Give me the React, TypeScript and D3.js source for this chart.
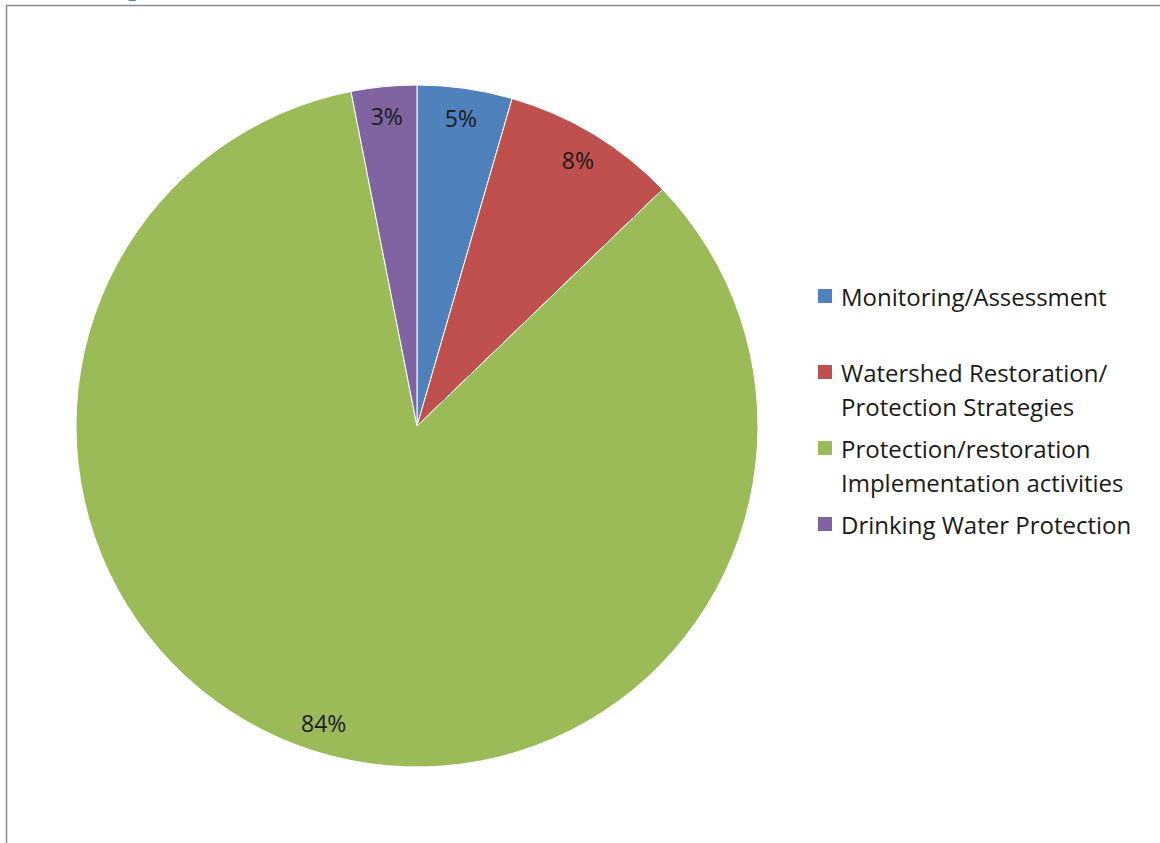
import React from "react";
import * as d3 from "d3";

const categories = [
  "Monitoring/Assessment",
  "Watershed Restoration/ Protection Strategies",
  "Protection/restoration Implementation activities",
  "Drinking Water Protection",
];
const legendLines = [
  ["Monitoring/Assessment"],
  ["Watershed Restoration/", "Protection Strategies"],
  ["Protection/restoration", "Implementation activities"],
  ["Drinking Water Protection"],
];
const values = [4.5, 8.3, 84.1, 3.1];
const colors = ["#4F81BD", "#C0504D", "#9BBB59", "#8064A2"];
const legendY = [296, 372, 448, 524];

const W = 1160;
const H = 843;
const cx = 417;
const cy = 426;
const R = 341;
const labelR = 311;
const FONT = "'Open Sans', Lato, 'DejaVu Sans', sans-serif";

export default function App() {
  const total = d3.sum(values);
  const pie = d3.pie<number>().sort(null).value((d) => d)(values);
  const arc = d3.arc<d3.PieArcDatum<number>>().innerRadius(0).outerRadius(R);
  const labelArc = d3
    .arc<d3.PieArcDatum<number>>()
    .innerRadius(labelR)
    .outerRadius(labelR);

  return (
    <svg
      width={W}
      height={H}
      style={{ position: "absolute", left: 0, top: 0, background: "#fff" }}
    >
      <text
        x={128}
        y={-4}
        fontFamily="'DejaVu Serif', serif"
        fontWeight="bold"
        fontSize={22}
        fill="#4F81BD"
      >
        p
      </text>
      <path d={`M6.5,${H} V5.5 H${W}`} fill="none" stroke="#8c8c8c" strokeWidth={1.5} />
      <g transform={`translate(${cx},${cy})`}>
        {pie.map((p, i) => (
          <path key={i} d={arc(p) || ""} fill={colors[i]} stroke="#fff" strokeWidth={1} />
        ))}
        {pie.map((p, i) => {
          const [x, y] = labelArc.centroid(p);
          return (
            <text
              key={"l" + i}
              x={x}
              y={y}
              textAnchor="middle"
              dominantBaseline="central"
              fontFamily={FONT}
              fontSize={23}
              fill="#1a1a1a"
            >
              {Math.round((values[i] / total) * 100)}%
            </text>
          );
        })}
      </g>
      <g>
        {categories.map((c, i) => (
          <g key={c}>
            <rect x={818} y={legendY[i] - 7} width={14} height={14} fill={colors[i]} />
            {legendLines[i].map((line, j) => (
              <text
                key={j}
                x={841}
                y={legendY[i] + j * 34}
                dominantBaseline="central"
                fontFamily={FONT}
                fontSize={24}
                fill="#1a1a1a"
              >
                {line}
              </text>
            ))}
          </g>
        ))}
      </g>
    </svg>
  );
}
